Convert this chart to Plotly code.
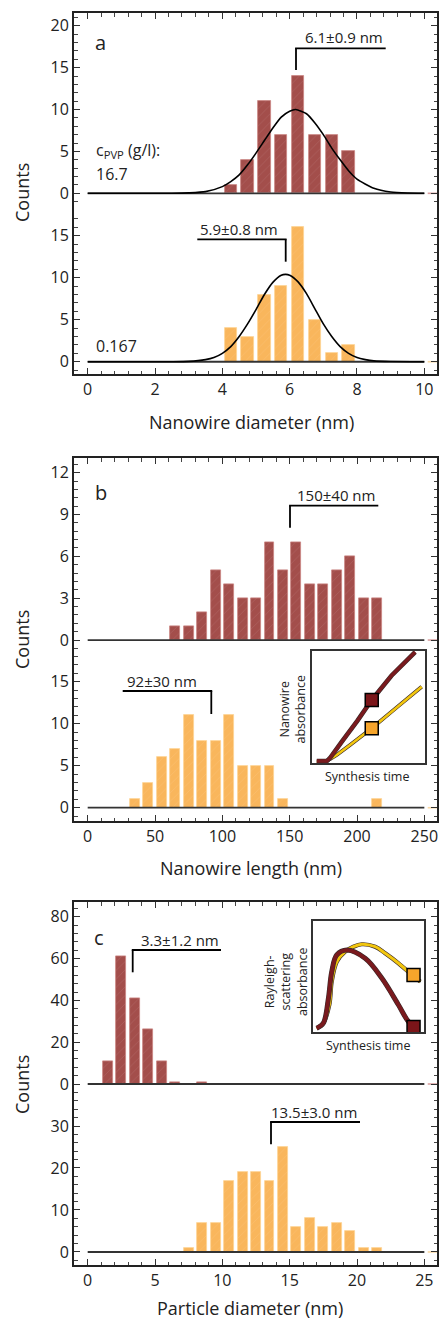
import plotly.graph_objects as go

# ---------------- data ----------------
# panel a: nanowire diameter (nm)
a_bins = [4.25, 4.75, 5.25, 5.75, 6.25, 6.75, 7.25, 7.75]
a_high = [1, 4, 11, 7, 14, 7, 7, 5]          # c_PVP = 16.7 g/l
a_low = [4, 3, 8, 9, 16, 5, 1, 2]            # c_PVP = 0.167 g/l
a_high_fit_x = [0, 2.5, 3.0, 3.5, 4.0, 4.25, 4.5, 4.75, 5.0, 5.25, 5.5, 5.75, 6.0, 6.18,
                6.5, 6.75, 7.0, 7.25, 7.5, 7.75, 8.0, 8.5, 9.0, 9.5, 10]
a_high_fit_y = [0, 0, 0.05, 0.2, 0.8, 1.4, 2.2, 3.4, 4.8, 6.3, 7.8, 9.1, 9.8, 10.0,
                9.5, 8.4, 7.0, 5.4, 4.0, 2.7, 1.7, 0.6, 0.15, 0.03, 0]
a_low_fit_x = [0, 2.5, 3.0, 3.5, 3.75, 4.0, 4.25, 4.5, 4.75, 5.0, 5.25, 5.5, 5.75, 5.88,
               6.0, 6.25, 6.5, 6.75, 7.0, 7.25, 7.5, 7.75, 8.0, 8.25, 8.5, 9.0, 10]
a_low_fit_y = [0, 0, 0.04, 0.25, 0.5, 1.0, 1.8, 3.0, 4.5, 6.2, 8.0, 9.45, 10.3, 10.4,
               10.3, 9.5, 8.1, 6.3, 4.5, 3.0, 1.8, 1.0, 0.5, 0.25, 0.1, 0.02, 0]

# panel b: nanowire length (nm)
b_high_bins = [65, 75, 85, 95, 105, 115, 125, 135, 145, 155, 165, 175, 185, 195, 205, 215]
b_high = [1, 1, 2, 5, 4, 3, 3, 7, 5, 7, 4, 4, 5, 6, 3, 3]
b_low_bins = [35, 45, 55, 65, 75, 85, 95, 105, 115, 125, 135, 145, 215]
b_low = [1, 3, 6, 7, 11, 8, 8, 11, 5, 5, 5, 1, 1]

# panel c: particle diameter (nm)
c_high_bins = [1.5, 2.5, 3.5, 4.5, 5.5, 6.5, 8.5]
c_high = [11, 61, 41, 26, 11, 1, 1]
c_low_bins = [7.5, 8.5, 9.5, 10.5, 11.5, 12.5, 13.5, 14.5, 15.5, 16.5, 17.5, 18.5, 19.5, 20.5, 21.5]
c_low = [1, 7, 7, 17, 19, 19, 17, 25, 6, 8, 6, 7, 5, 1, 1]

# insets (arbitrary units, synthesis time vs absorbance)
ib_high_x = [0.04, 0.13, 0.155, 0.19, 0.26, 0.40, 0.526, 0.70, 0.91]
ib_high_y = [0.02, 0.02, 0.045, 0.09, 0.19, 0.38, 0.564, 0.78, 0.99]
ib_low_x = [0.04, 0.112, 0.16, 0.216, 0.334, 0.526, 0.75, 0.968]
ib_low_y = [0.015, 0.015, 0.04, 0.074, 0.163, 0.312, 0.50, 0.682]
ib_mark_x = [0.526, 0.526]
ib_mark_y = [0.564, 0.312]

ic_high_x = [0.036, 0.095, 0.141, 0.171, 0.216, 0.306, 0.471, 0.622, 0.771, 0.861, 0.93]
ic_high_y = [0.036, 0.081, 0.305, 0.544, 0.695, 0.739, 0.665, 0.485, 0.245, 0.095, 0.04]
ic_low_x = [0.036, 0.095, 0.150, 0.171, 0.216, 0.291, 0.366, 0.441, 0.561, 0.651, 0.771, 0.892, 0.967]
ic_low_y = [0.036, 0.081, 0.25, 0.455, 0.634, 0.724, 0.769, 0.791, 0.769, 0.71, 0.62, 0.515, 0.455]
ic_mark_x = [0.906, 0.906]
ic_mark_y = [0.047, 0.515]

a_xticks = [0, 2, 4, 6, 8, 10]
b_xticks = [0, 50, 100, 150, 200, 250]
c_xticks = [0, 5, 10, 15, 20, 25]
a_hi_yticks = [0, 5, 10, 15, 20]
a_lo_yticks = [0, 5, 10, 15]
b_hi_yticks = [0, 3, 6, 9, 12]
b_lo_yticks = [0, 5, 10, 15]
c_hi_yticks = [0, 20, 40, 60, 80]
c_lo_yticks = [0, 10, 20, 30]

# ---------------- styling ----------------
W, H = 440, 1320
FONT = "Open Sans"
BROWN = "#A34E4B"
BROWN_EDGE = "#C98482"
ORANGE = "#F9B65C"
ORANGE_EDGE = "#FCD394"
INK = "#222222"


def PX(x):
    return x / W


def PY(y):
    return 1 - y / H


XD = [PX(74), PX(437)]

fig = go.Figure()


def bars(x, y, w, color, edge, xa, ya):
    fig.add_trace(go.Bar(
        x=x, y=y, width=w, xaxis=xa, yaxis=ya, showlegend=False, hoverinfo="skip",
        marker=dict(color=color, line=dict(color=edge, width=0.8),
                    pattern=dict(shape="/", fgcolor="rgba(255,255,255,0.22)", size=6, solidity=0.12)),
    ))


def baseline(xmax, span, stubcolor, xa, ya):
    fig.add_trace(go.Scatter(x=[0, xmax], y=[0, 0], mode="lines", xaxis=xa, yaxis=ya,
                             line=dict(color="#333333", width=1.8), showlegend=False, hoverinfo="skip"))
    fig.add_trace(go.Scatter(x=[xmax + 0.01 * span, xmax + 0.06 * span], y=[0, 0], mode="lines",
                             xaxis=xa, yaxis=ya, line=dict(color=stubcolor, width=1.6),
                             showlegend=False, hoverinfo="skip"))


def fitline(x, y, xa, ya):
    fig.add_trace(go.Scatter(x=x, y=y, mode="lines", xaxis=xa, yaxis=ya,
                             line=dict(color="black", width=1.6, shape="spline", smoothing=0.6),
                             showlegend=False, hoverinfo="skip"))


# panel a
bars(a_bins, a_low, 0.37, ORANGE, ORANGE_EDGE, "x", "y")
baseline(a_xticks[-1], 10, "#FAD9A5", "x", "y")
fitline(a_low_fit_x, a_low_fit_y, "x", "y")
bars(a_bins, a_high, 0.37, BROWN, BROWN_EDGE, "x2", "y2")
baseline(a_xticks[-1], 10, "#D9A0A0", "x2", "y2")
fitline(a_high_fit_x, a_high_fit_y, "x2", "y2")

# panel b
bars(b_low_bins, b_low, 7.4, ORANGE, ORANGE_EDGE, "x3", "y3")
baseline(b_xticks[-1], 250, "#FAD9A5", "x3", "y3")
bars(b_high_bins, b_high, 7.4, BROWN, BROWN_EDGE, "x4", "y4")
baseline(b_xticks[-1], 250, "#D9A0A0", "x4", "y4")

# panel c
bars(c_low_bins, c_low, 0.74, ORANGE, ORANGE_EDGE, "x5", "y5")
baseline(c_xticks[-1], 25, "#FAD9A5", "x5", "y5")
bars(c_high_bins, c_high, 0.74, BROWN, BROWN_EDGE, "x6", "y6")
baseline(c_xticks[-1], 25, "#D9A0A0", "x6", "y6")


def inset_line(x, y, color, width, xa, ya, shape):
    fig.add_trace(go.Scatter(x=x, y=y, mode="lines", xaxis=xa, yaxis=ya,
                             line=dict(color="#3a2a2a", width=width + 1.2, shape=shape),
                             showlegend=False, hoverinfo="skip"))
    fig.add_trace(go.Scatter(x=x, y=y, mode="lines", xaxis=xa, yaxis=ya,
                             line=dict(color=color, width=width, shape=shape),
                             showlegend=False, hoverinfo="skip"))


def inset_marks(x, y, colors, xa, ya):
    fig.add_trace(go.Scatter(x=x, y=y, mode="markers", xaxis=xa, yaxis=ya,
                             marker=dict(symbol="square", size=13, color=colors,
                                         line=dict(color="black", width=1.5)),
                             showlegend=False, hoverinfo="skip"))


inset_line(ib_low_x, ib_low_y, "#F2C60E", 2.6, "x7", "y7", "linear")
inset_line(ib_high_x, ib_high_y, "#7A1A1E", 3.4, "x7", "y7", "linear")
inset_marks(ib_mark_x, ib_mark_y, ["#7B1519", "#F6A52B"], "x7", "y7")

inset_line(ic_low_x, ic_low_y, "#F2C60E", 3.0, "x8", "y8", "spline")
inset_line(ic_high_x, ic_high_y, "#7A1A1E", 3.8, "x8", "y8", "spline")
inset_marks(ic_mark_x, ic_mark_y, ["#7B1519", "#F6A52B"], "x8", "y8")

# ---------------- axes ----------------
base = dict(showline=True, linecolor=INK, linewidth=2, ticks="inside", ticklen=6, tickwidth=1.2,
            tickcolor="#333333", showgrid=False, zeroline=False,
            tickfont=dict(family=FONT, size=16, color=INK))


def minor(dt):
    return dict(ticks="inside", ticklen=3.5, tickwidth=1, tickcolor="#444444", dtick=dt, tick0=0, showgrid=False)


def xaxes(lo_name, hi_name, lo_y, hi_y, rng, ticks, mdt):
    lay = {}
    lay[lo_name] = dict(base, domain=XD, range=rng, anchor=lo_y, tickmode="array", tickvals=ticks,
                        minor=minor(mdt))
    lay[hi_name] = dict(base, domain=XD, range=rng, anchor=hi_y, side="top", tickmode="array",
                        tickvals=ticks, showticklabels=False, minor=minor(mdt))
    return lay


def yaxis(dom, rng, ticks, mdt, anchor):
    return dict(base, domain=dom, range=rng, anchor=anchor, mirror="ticks", tickmode="array",
                tickvals=ticks, minor=minor(mdt))


layout = {}
layout.update(xaxes("xaxis", "xaxis2", "y", "y2", [-0.407, 10.377], a_xticks, 0.4))
layout.update(xaxes("xaxis3", "xaxis4", "y3", "y4", [-10.17, 259.4], b_xticks, 10))
layout.update(xaxes("xaxis5", "xaxis6", "y5", "y6", [-1.017, 25.94], c_xticks, 1))
layout["yaxis"] = yaxis([PY(374), PY(210)], [-1.46, 18.06], a_lo_yticks, 1, "x")
layout["yaxis2"] = yaxis([PY(210), PY(13)], [-1.99, 21.52], a_hi_yticks, 1, "x2")
layout["yaxis3"] = yaxis([PY(821), PY(660)], [-1.58, 17.58], b_lo_yticks, 1, "x3")
layout["yaxis4"] = yaxis([PY(660), PY(458.3)], [-1.43, 13.03], b_hi_yticks, 0.6, "x4")
layout["yaxis5"] = yaxis([PY(1265), PY(1105)], [-3.1, 35.0], c_lo_yticks, 2, "x5")
layout["yaxis6"] = yaxis([PY(1105), PY(902.3)], [-10.05, 86.94], c_hi_yticks, 4, "x6")

inset_ax = dict(showline=True, mirror=True, linecolor="#333333", linewidth=1.5, ticks="",
                showticklabels=False, showgrid=False, zeroline=False, range=[0, 1])
layout["xaxis7"] = dict(inset_ax, domain=[PX(312.3), PX(425.3)], anchor="y7")
layout["yaxis7"] = dict(inset_ax, domain=[PY(763.3), PY(651)], anchor="x7")
layout["xaxis8"] = dict(inset_ax, domain=[PX(312.7), PX(424)], anchor="y8")
layout["yaxis8"] = dict(inset_ax, domain=[PY(1032.3), PY(921)], anchor="x8")

fig.update_layout(**layout)

# ---------------- annotations & brackets ----------------
ann = []


def text(x, y, s, size=15, xanchor="center", angle=0):
    ann.append(dict(x=PX(x), y=PY(y), xref="paper", yref="paper", text=s, showarrow=False,
                    xanchor=xanchor, yanchor="middle", textangle=angle,
                    font=dict(family=FONT, size=size, color=INK)))


shapes = []


def seg(x0, y0, x1, y1, w=1.8):
    shapes.append(dict(type="line", xref="paper", yref="paper", x0=PX(x0), y0=PY(y0),
                       x1=PX(x1), y1=PY(y1), line=dict(color="black", width=w)))


# panel a
text(100, 42, "a", 20)
text(344, 37, "6.1±0.9 nm")
seg(296, 70, 296, 48.3); seg(295.1, 48.3, 385.7, 48.3)
text(94, 150, "c<sub>PVP</sub> (g/l):", 16, "left")
text(94, 174, "16.7", 16, "left")
text(239, 229, "5.9±0.8 nm")
seg(197.3, 239.3, 286.6, 239.3); seg(285.7, 239.3, 285.7, 261.7)
text(94, 346, "0.167", 16, "left")
text(251, 422, "Nanowire diameter (nm)", 18)
text(22, 193, "Counts", 18, angle=-90)

# panel b
text(101, 492, "b", 20)
text(336, 495, "150±40 nm")
seg(290, 527.7, 290, 505.7); seg(289.1, 505.7, 378.3, 505.7)
text(161.7, 681, "92±30 nm")
seg(122.7, 691, 212.2, 691); seg(211.3, 691, 211.3, 714)
text(251, 868, "Nanowire length (nm)", 18)
text(22, 640, "Counts", 18, angle=-90)
text(291.5, 710, "Nanowire<br>absorbance", 12.5, angle=-90)
text(367, 776.7, "Synthesis time", 12.5)

# panel c
text(99, 937, "c", 20)
text(180, 940, "3.3±1.2 nm")
seg(132.7, 972.3, 132.7, 950); seg(131.8, 950, 221, 950)
text(314.3, 1111.7, "13.5±3.0 nm")
seg(271, 1144.3, 271, 1122); seg(270.1, 1122, 360, 1122)
text(250, 1308, "Particle diameter (nm)", 18)
text(22, 1085, "Counts", 18, angle=-90)
text(286, 982, "Rayleigh-<br>scattering<br>absorbance", 12.5, angle=-90)
text(368, 1045, "Synthesis time", 12.5)

fig.update_layout(
    width=W, height=H, margin=dict(l=0, r=0, t=0, b=0),
    paper_bgcolor="white", plot_bgcolor="white",
    annotations=ann, shapes=shapes, barmode="overlay", bargap=0,
    font=dict(family=FONT, color=INK),
)

fig.write_html("out.html", config={"displayModeBar": False},
               post_script="document.body.style.margin='0';")
